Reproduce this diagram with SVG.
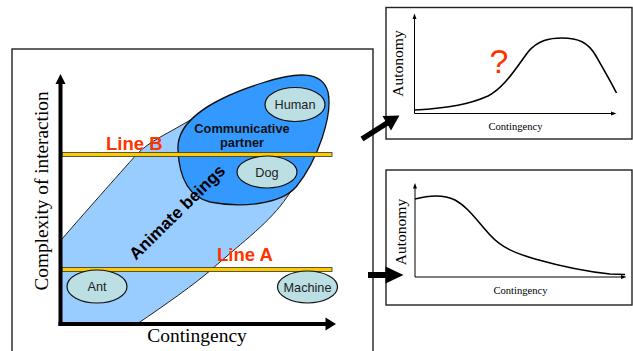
<svg xmlns="http://www.w3.org/2000/svg" width="633" height="351" viewBox="0 0 633 351">
  <style>
    .frame { fill: #ffffff; stroke: #222222; stroke-width: 1.4; }
    .axis { stroke: #000000; stroke-width: 4; fill: none; }
    .thin-axis { stroke: #000000; stroke-width: 1; fill: none; }
    .curve { stroke: #000000; stroke-width: 1.6; fill: none; }
    .bar { fill: #FFCC00; stroke: #333333; stroke-width: 0.8; }
    .item { fill: #BBDFE2; stroke: #111111; stroke-width: 1.2; }
    .item-label { font-family: "Liberation Sans", Arial, sans-serif; font-size: 12.7px; fill: #222222; text-anchor: middle; }
    .line-label { font-family: "Liberation Sans", Arial, sans-serif; font-size: 18.5px; font-weight: bold; fill: #FF3300; }
    .serif { font-family: "Liberation Serif", "Times New Roman", serif; fill: #000000; text-anchor: middle; }
  </style>
  <defs>
    <clipPath id="quadrant">
      <rect x="60.5" y="0" width="320" height="324"/>
    </clipPath>
  </defs>

  <!-- left panel frame -->
  <rect class="frame" x="12" y="49" width="361" height="310"/>

  <!-- Animate beings region (runs past the axes, cut at them) -->
  <g id="animate-beings">
    <path d="M 300 85 C 260 90 215 105 187 122 C 165 135 150 141 137 154 C 120 173 80 218 62 239 C 45 258 30 300 40 340 C 55 360 100 350 137 324 C 165 305 195 284 212 269 C 245 240 270 222 287 197 C 310 165 325 120 318 95 C 315 86 308 84 300 85 Z" fill="#99CCFF" stroke="#222222" stroke-width="1" clip-path="url(#quadrant)"/>
  </g>

  <!-- Communicative partner region -->
  <g id="communicative-partner">
    <path d="M 178 150 C 176 120 215 98 262 83 C 296 72 322 70 328 92 C 333 115 318 160 296 187 C 280 205 240 208 210 202 C 186 196 179 174 178 150 Z" fill="#3399FF" stroke="#111111" stroke-width="1.3"/>
    <text x="242" y="133" font-family="'Liberation Sans', Arial, sans-serif" font-size="12.8" font-weight="bold" fill="#111111" text-anchor="middle">Communicative</text>
    <text x="242" y="146.5" font-family="'Liberation Sans', Arial, sans-serif" font-size="12.8" font-weight="bold" fill="#111111" text-anchor="middle">partner</text>
  </g>

  <!-- threshold lines -->
  <g id="line-b">
    <rect class="bar" x="62" y="152.5" width="270" height="4"/>
    <text class="line-label" x="106" y="149.5">Line B</text>
  </g>
  <g id="line-a">
    <rect class="bar" x="62" y="267.5" width="270" height="4"/>
    <text class="line-label" x="217" y="261">Line A</text>
  </g>

  <!-- Animate beings label -->
  <text x="0" y="0" transform="translate(177 212) rotate(-44.5)" dy="6" font-family="'Liberation Sans', Arial, sans-serif" font-size="17" font-weight="bold" fill="#000000" text-anchor="middle">Animate beings</text>

  <!-- entities -->
  <g id="human">
    <ellipse class="item" cx="295" cy="104.5" rx="30" ry="17"/>
    <text class="item-label" x="295" y="109">Human</text>
  </g>
  <g id="dog">
    <ellipse class="item" cx="267" cy="172" rx="30" ry="16"/>
    <text class="item-label" x="267" y="176.5">Dog</text>
  </g>
  <g id="ant">
    <ellipse class="item" cx="97" cy="286.5" rx="30" ry="16.5"/>
    <text class="item-label" x="97" y="291">Ant</text>
  </g>
  <g id="machine">
    <ellipse class="item" cx="307.5" cy="287" rx="30" ry="16"/>
    <text class="item-label" x="307.5" y="291.5">Machine</text>
  </g>

  <!-- main axes -->
  <g id="main-axes">
    <line class="axis" x1="60.5" y1="326" x2="60.5" y2="82"/>
    <polygon points="60.5,74 55.5,84 65.5,84" fill="#000000"/>
    <line class="axis" x1="58.5" y1="324" x2="327" y2="324"/>
    <polygon points="336,324 325.5,317.5 325.5,330.5" fill="#000000"/>
    <text class="serif" font-size="19.3" transform="translate(48 191) rotate(-90)">Complexity of interaction</text>
    <text class="serif" font-size="19.5" x="197" y="342">Contingency</text>
  </g>

  <!-- upper graph -->
  <g id="graph-rising">
    <rect class="frame" x="386" y="7.5" width="246" height="131.5"/>
    <line class="thin-axis" x1="414.5" y1="113.5" x2="414.5" y2="17"/>
    <polygon points="414.5,13.5 412.5,19 416.5,19" fill="#000000"/>
    <line class="thin-axis" x1="414.5" y1="113.5" x2="612" y2="113.5"/>
    <polygon points="616.5,113.5 611,111.5 611,115.5" fill="#000000"/>
    <path class="curve" d="M 415 110 C 450 108 470 104 488 96 C 504 88 516 68 528 52 C 538 40 550 38 562 38 C 578 38 588 42 596 56 C 604 70 611 82 616.5 93"/>
    <text x="499" y="73" font-family="'Liberation Sans', Arial, sans-serif" font-size="34" fill="#FF3300" text-anchor="middle">?</text>
    <text class="serif" font-size="15.5" transform="translate(402.5 63.5) rotate(-90)">Autonomy</text>
    <text class="serif" font-size="10.6" x="515.5" y="130">Contingency</text>
  </g>

  <!-- lower graph -->
  <g id="graph-falling">
    <rect class="frame" x="386" y="170" width="246" height="135"/>
    <line class="thin-axis" x1="415" y1="277" x2="415" y2="187"/>
    <polygon points="415,183 413,188.5 417,188.5" fill="#000000"/>
    <line class="thin-axis" x1="415" y1="277" x2="622" y2="277"/>
    <polygon points="626.5,277 621,275 621,279" fill="#000000"/>
    <path class="curve" d="M 415 199 C 430 195 443 194 455 200 C 468 207 478 222 490 235 C 502 248 515 253 535 259 C 560 266 590 272 610 274 L 625 274.5"/>
    <text class="serif" font-size="15.5" transform="translate(405.5 232) rotate(-90)">Autonomy</text>
    <text class="serif" font-size="10.6" x="520.5" y="293.5">Contingency</text>
  </g>

  <!-- connectors -->
  <g id="connectors">
    <line x1="362" y1="139" x2="388" y2="122.5" stroke="#000000" stroke-width="5.5"/>
    <polygon points="399.5,115.5 382.5,116 391,130.5" fill="#000000"/>
    <line x1="368" y1="275" x2="387" y2="275" stroke="#000000" stroke-width="6"/>
    <polygon points="403.5,275 385.5,266.5 385.5,283.5" fill="#000000"/>
  </g>
</svg>
